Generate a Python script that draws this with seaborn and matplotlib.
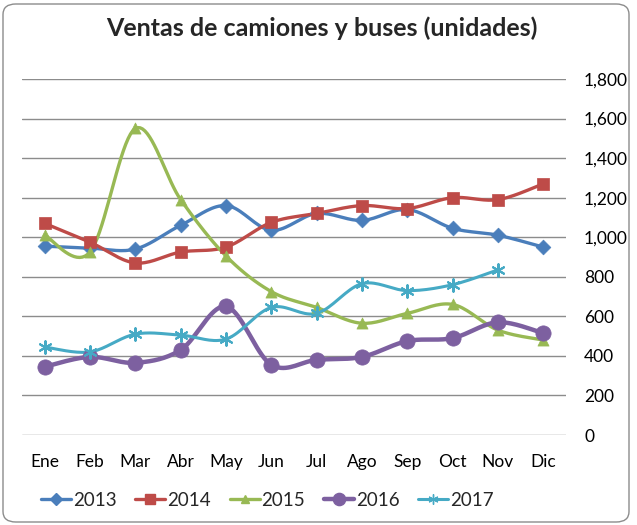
import numpy as np
import pandas as pd
import matplotlib
matplotlib.use('Agg')
import matplotlib.pyplot as plt
from matplotlib.patches import FancyBboxPatch
from matplotlib.lines import Line2D
import seaborn as sns

meses = ['Ene', 'Feb', 'Mar', 'Abr', 'May', 'Jun', 'Jul', 'Ago', 'Sep', 'Oct', 'Nov', 'Dic']
v2013 = [955, 945, 940, 1060, 1160, 1035, 1120, 1085, 1140, 1045, 1010, 950]
v2014 = [1070, 975, 870, 925, 950, 1075, 1120, 1160, 1145, 1200, 1190, 1270]
v2015 = [1010, 925, 1550, 1190, 905, 725, 645, 565, 615, 660, 530, 480]
v2016 = [345, 395, 365, 430, 650, 355, 380, 395, 475, 490, 570, 515]
v2017 = [445, 420, 510, 505, 485, 645, 615, 765, 730, 760, 835]

series = {'2013': v2013, '2014': v2014, '2015': v2015, '2016': v2016, '2017': v2017}
colors = {'2013': '#4A7EBB', '2014': '#BE4B48', '2015': '#98B954', '2016': '#7D60A0', '2017': '#46AAC5'}
markers = {'2013': 'D', '2014': 's', '2015': '^', '2016': 'o', '2017': (6, 2, 0)}
msizes = {'2013': 7.5, '2014': 9, '2015': 8, '2016': 11, '2017': 9}
lwidths = {'2013': 2.4, '2014': 2.4, '2015': 2.4, '2016': 3.2, '2017': 2.2}


def smooth(x, y, n=20):
    # Excel-style smoothing: bezier with control points from neighbours
    x = np.asarray(x, float)
    y = np.asarray(y, float)
    px, py = [], []
    for i in range(len(x) - 1):
        x0, y0 = (x[i - 1], y[i - 1]) if i > 0 else (x[i], y[i])
        x3, y3 = (x[i + 2], y[i + 2]) if i + 2 < len(x) else (x[i + 1], y[i + 1])
        c1x = x[i] + (x[i + 1] - x0) / 6
        c1y = y[i] + (y[i + 1] - y0) / 6
        c2x = x[i + 1] - (x3 - x[i]) / 6
        c2y = y[i + 1] - (y3 - y[i]) / 6
        t = np.linspace(0, 1, n)
        bx = (1 - t) ** 3 * x[i] + 3 * (1 - t) ** 2 * t * c1x + 3 * (1 - t) * t ** 2 * c2x + t ** 3 * x[i + 1]
        by = (1 - t) ** 3 * y[i] + 3 * (1 - t) ** 2 * t * c1y + 3 * (1 - t) * t ** 2 * c2y + t ** 3 * y[i + 1]
        px.extend(bx)
        py.extend(by)
    return np.array(px), np.array(py)


sns.set_style('white')
plt.rcParams['font.family'] = ['Lato', 'DejaVu Sans']

fig = plt.figure(figsize=(6.37, 5.25), dpi=100)
ax = fig.add_axes([22 / 637, 1 - 435 / 525, 544 / 637, 356 / 525])

for name, vals in series.items():
    xs = np.arange(len(vals))
    sx, sy = smooth(xs, vals)
    ax.plot(sx, sy, color=colors[name], lw=lwidths[name], zorder=3, solid_capstyle='round')
    df = pd.DataFrame({'x': xs, 'y': vals})
    sns.scatterplot(data=df, x='x', y='y', ax=ax, color=colors[name], marker=markers[name],
                    s=msizes[name] ** 2, edgecolor=colors[name] if name != '2017' else None,
                    linewidth=1.5 if name == '2017' else 0.5, zorder=4, legend=False)

ax.set_xlim(-0.5, 11.5)
ax.set_ylim(0, 1800)
ax.set_yticks(range(0, 1801, 200))
ax.set_yticklabels([f'{v:,}' for v in range(0, 1801, 200)])
ax.set_xticks(range(12))
ax.set_xticklabels(meses)
ax.yaxis.tick_right()
ax.grid(axis='y', color='#8C8C8C', lw=1)
ax.set_axisbelow(True)
for s in ax.spines.values():
    s.set_visible(False)
ax.tick_params(axis='both', length=0, labelsize=12.5, colors='black')
ax.tick_params(axis='y', pad=13)
ax.tick_params(axis='x', pad=14)
ax.set_xlabel('')
ax.set_ylabel('')

fig.text(0.505, 1 - 28 / 525, 'Ventas de camiones y buses (unidades)', ha='center', va='center',
         fontsize=18, fontweight='bold')

handles = [Line2D([], [], color=colors[k], lw=lwidths[k], marker=markers[k], markersize=msizes[k] * 0.8,
                  markeredgecolor=colors[k]) for k in series]
fig.legend(handles, list(series.keys()), loc='center', bbox_to_anchor=(0.42, 1 - 500 / 525), ncol=5,
           frameon=False, fontsize=13.5, handlelength=1.6, handletextpad=0.1, columnspacing=1.0)

border = FancyBboxPatch((3 / 637, 3 / 525), 626 / 637, 518 / 525, boxstyle='round,pad=0,rounding_size=0.02',
                        transform=fig.transFigure, fill=False, edgecolor='#8C8C8C', lw=1)
fig.patches.append(border)

fig.savefig('out.png', dpi=100)
